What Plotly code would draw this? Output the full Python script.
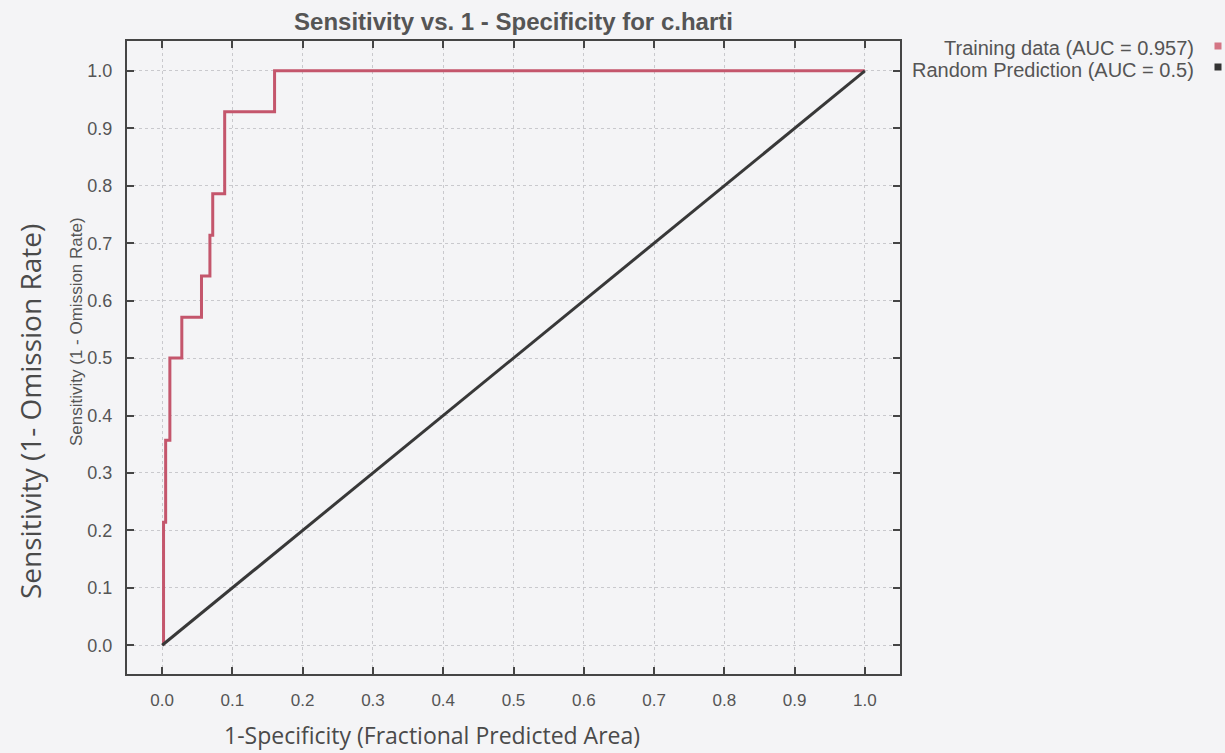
import plotly.graph_objects as go

# Training data ROC (step curve), fractions of 14 test points
train_fpr = [0.002, 0.002, 0.005, 0.005, 0.011, 0.011, 0.028, 0.028, 0.056, 0.056,
             0.068, 0.068, 0.072, 0.072, 0.089, 0.089, 0.160, 0.160, 1.0]
train_tpr = [0.0, 0.214, 0.214, 0.357, 0.357, 0.5, 0.5, 0.571, 0.571, 0.643,
             0.643, 0.714, 0.714, 0.786, 0.786, 0.929, 0.929, 1.0, 1.0]
random_fpr = [0.0, 1.0]
random_tpr = [0.0, 1.0]
tick_vals = [0.0, 0.1, 0.2, 0.3, 0.4, 0.5, 0.6, 0.7, 0.8, 0.9, 1.0]
tick_text = ["0.0", "0.1", "0.2", "0.3", "0.4", "0.5", "0.6", "0.7", "0.8", "0.9", "1.0"]

RED = "#c4566c"
DARK = "#383838"
TXT = "#555555"
BG = "#f4f4f6"
FONT = "Liberation Sans, Arial, sans-serif"
SCAN_FONT = "Open Sans, Noto Sans, sans-serif"

fig = go.Figure()
fig.add_trace(go.Scatter(x=train_fpr, y=train_tpr, mode="lines",
                         line=dict(color=RED, width=3),
                         name="Training data (AUC = 0.957)", showlegend=False))
fig.add_trace(go.Scatter(x=random_fpr, y=random_tpr, mode="lines",
                         line=dict(color=DARK, width=3),
                         name="Random Prediction (AUC = 0.5)", showlegend=False))

axis_common = dict(
    tickvals=tick_vals, ticktext=tick_text,
    showline=True, linecolor="#454545", linewidth=2, mirror="ticks",
    ticks="inside", ticklen=7, tickwidth=2, tickcolor="#454545",
    showgrid=True, gridcolor="#c9c9cd", gridwidth=1, griddash="dot",
    zeroline=False,
)

fig.update_xaxes(range=[-0.05, 1.05], ticklabelstandoff=10,
                 tickfont=dict(family=FONT, size=17, color=TXT), **axis_common)
fig.update_yaxes(range=[-0.05, 1.052], ticklabelstandoff=9,
                 tickfont=dict(family=FONT, size=18, color=TXT), **axis_common)

fig.update_layout(
    width=1225, height=753,
    margin=dict(l=127, r=325, t=41, b=79),
    paper_bgcolor=BG, plot_bgcolor=BG,
    title=dict(text="<b>Sensitivity vs. 1 - Specificity for c.harti</b>",
               font=dict(family=FONT, size=24, color=TXT),
               xref="paper", x=0.5, xanchor="center",
               yref="container", y=1 - 22 / 753, yanchor="middle"),
)

# legend (text with swatch on the right)
W, H, L, BOT = 773, 633, 127, 674
legend_items = [("Training data (AUC = 0.957)", "#d47585", 48, 46),
                ("Random Prediction (AUC = 0.5)", "#333333", 70, 67)]
for label, col, py, sy in legend_items:
    fig.add_annotation(text=label, xref="paper", yref="paper",
                       x=(1196 - L) / W, y=(BOT - py) / H,
                       xanchor="right", yanchor="middle", showarrow=False,
                       font=dict(family=FONT, size=20, color=TXT))
    fig.add_shape(type="rect", xref="paper", yref="paper",
                  x0=(1214.5 - L) / W, x1=(1221.5 - L) / W,
                  y0=(BOT - sy - 3.5) / H, y1=(BOT - sy + 3.5) / H,
                  fillcolor=col, line=dict(width=0))

# inner y-axis title
fig.add_annotation(text="Sensitivity (1 - Omission Rate)", xref="paper", yref="paper",
                   x=(76 - L) / W, y=(BOT - 332) / H, textangle=-90,
                   xanchor="center", yanchor="middle", showarrow=False,
                   font=dict(family=FONT, size=17, color=TXT))
# outer axis labels
fig.add_annotation(text="Sensitivity (1- Omission Rate)", xref="paper", yref="paper",
                   x=(30 - L) / W, y=(BOT - 412) / H, textangle=-90,
                   xanchor="center", yanchor="middle", showarrow=False,
                   font=dict(family=SCAN_FONT, size=28, color="#4a4a4a"))
fig.add_annotation(text="1-Specificity (Fractional Predicted Area)", xref="paper", yref="paper",
                   x=(432 - L) / W, y=(BOT - 735) / H,
                   xanchor="center", yanchor="middle", showarrow=False,
                   font=dict(family=SCAN_FONT, size=23, color="#4a4a4a"))

fig.write_html("out.html", config={"displayModeBar": False},
               post_script="document.body.style.margin='0';")
